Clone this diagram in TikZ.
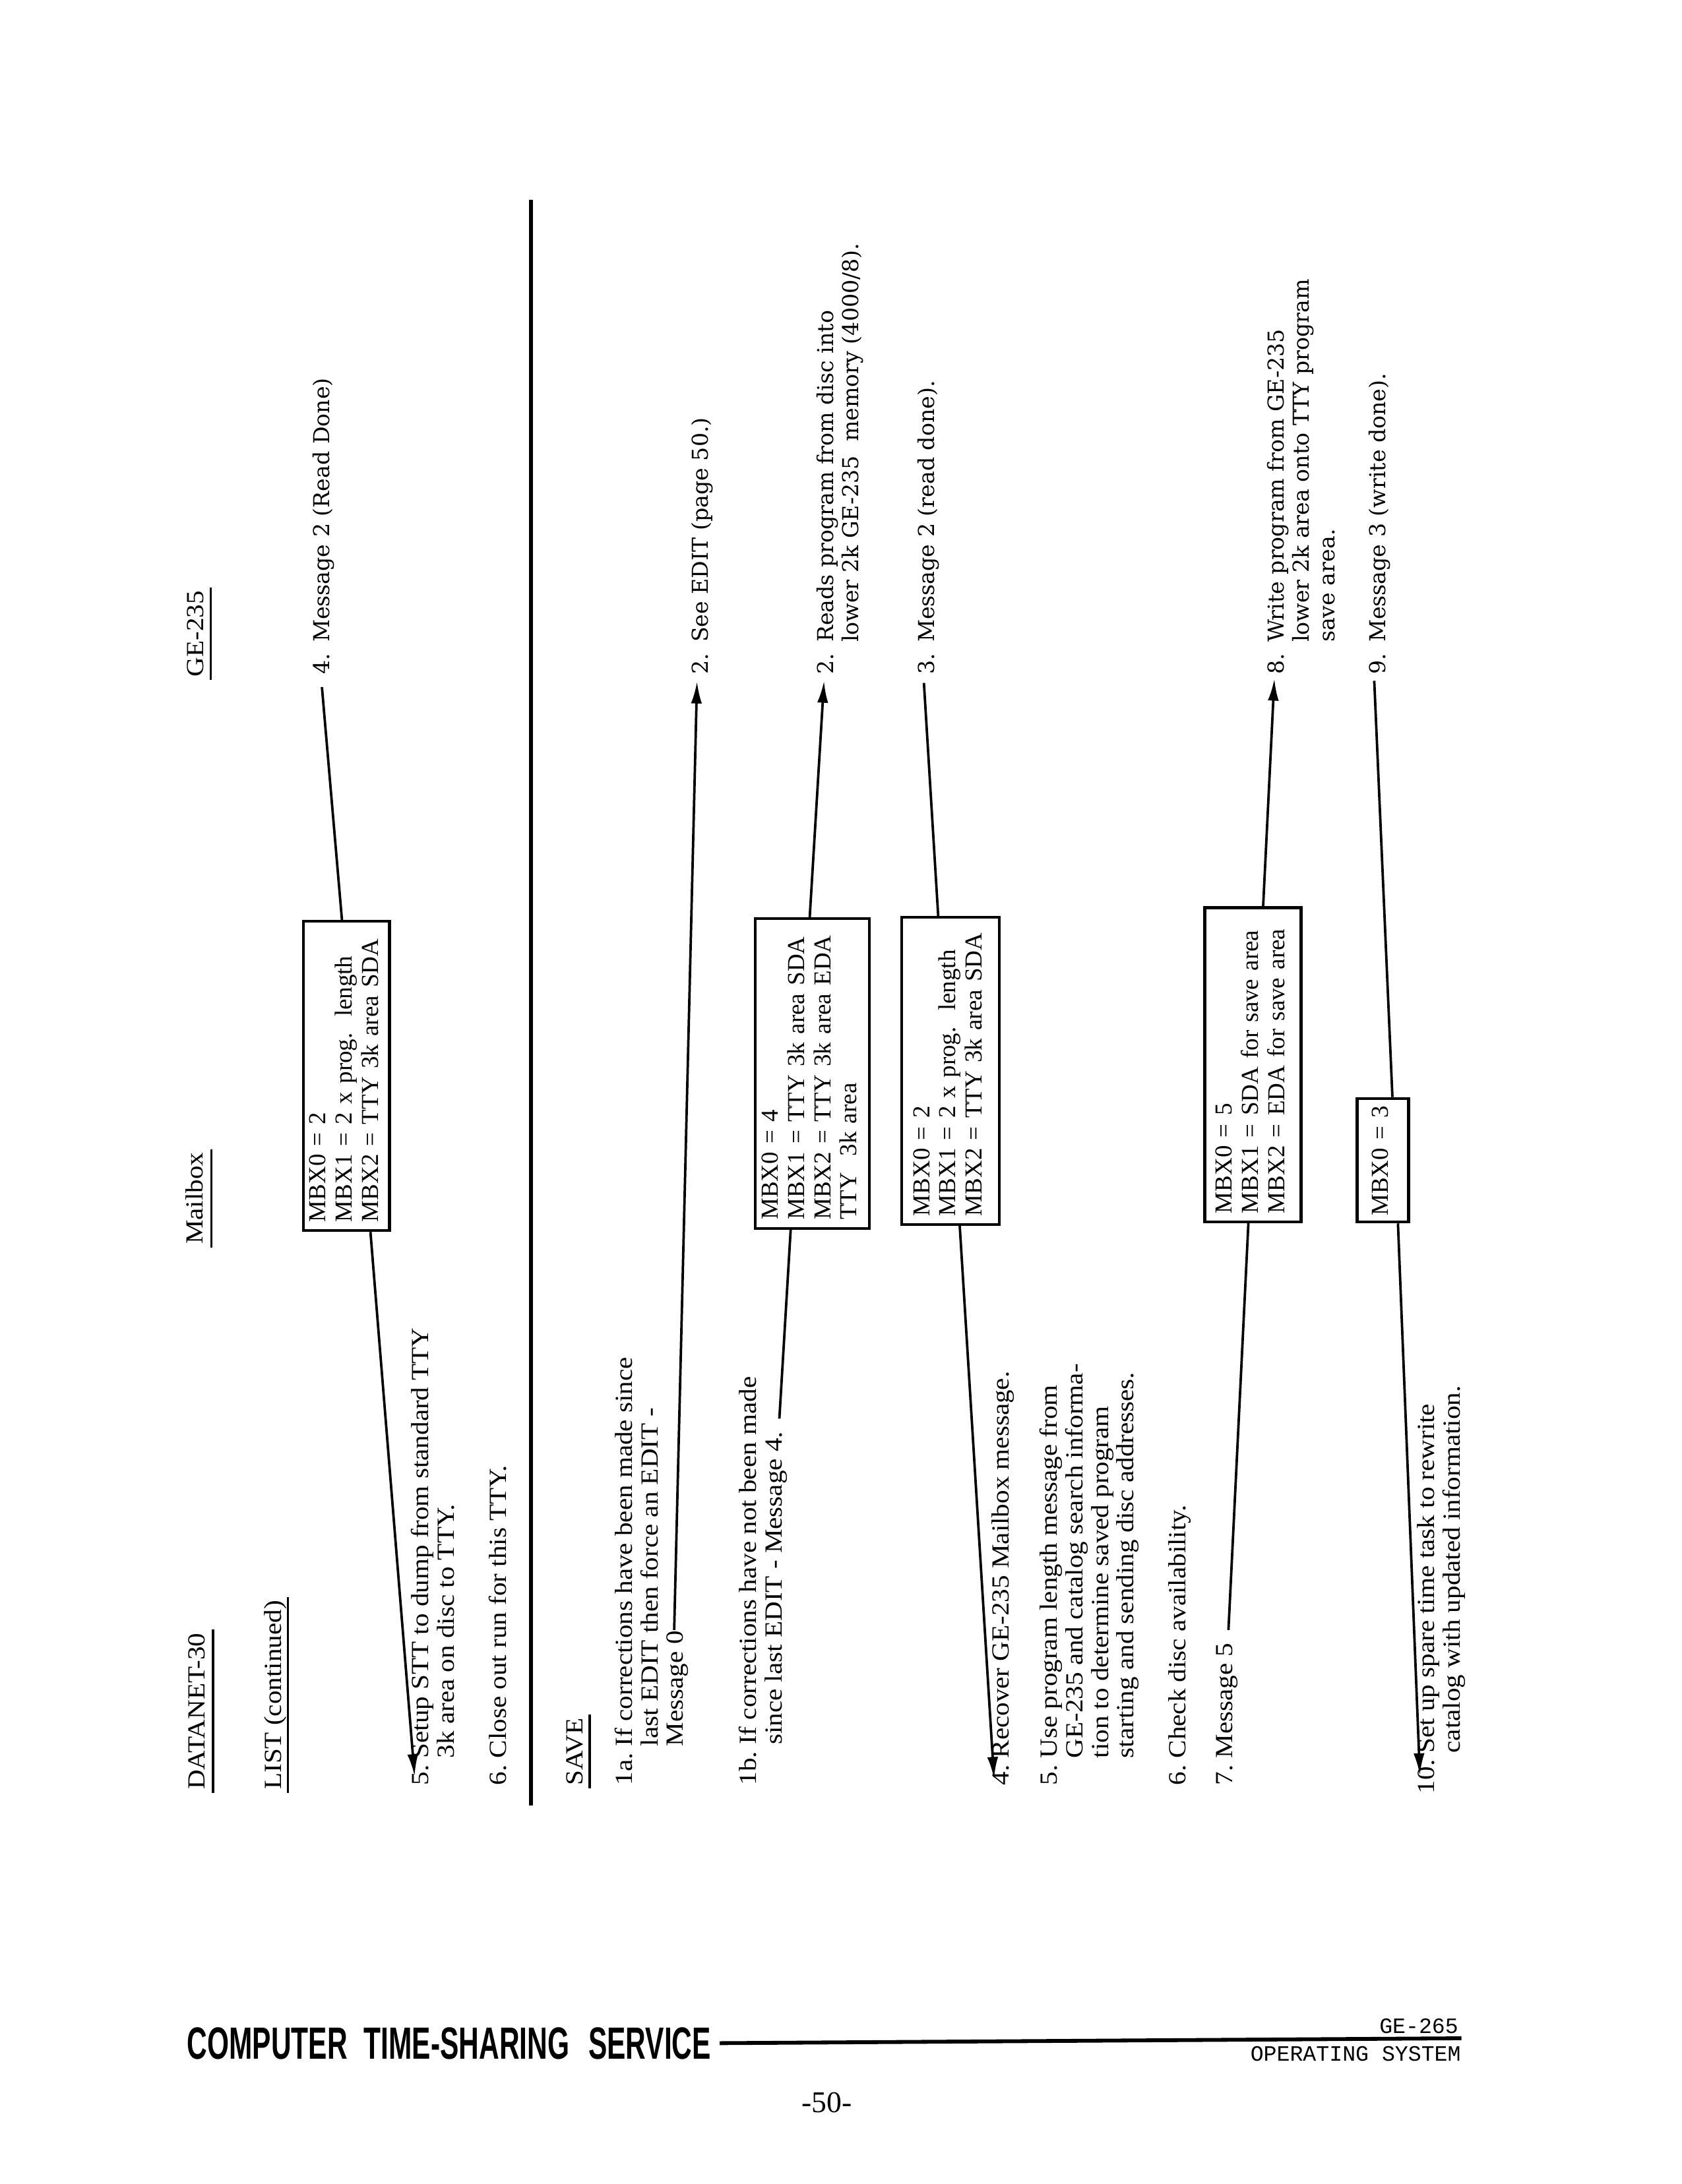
\documentclass[tikz,border=0pt]{standalone}
\usepackage{fontspec}
\setmainfont{Liberation Serif}
\newfontfamily\dnfont{Liberation Serif}[FakeStretch=1.1]
\newfontfamily\mbxfont{Liberation Serif}
\newfontfamily\gefont{DejaVu Serif}
\newfontfamily\footfont{Liberation Sans}[FakeStretch=0.62]
\newfontfamily\gemono{Liberation Mono}
\usetikzlibrary{calc,arrows.meta}
\def\drawline{\draw[line width=0.9pt]}
\def\drawarrow{\draw[line width=0.9pt,-{Latex[length=8pt,width=4pt]}]}
\def\drawrule{\draw[line width=0.9pt]}
\def\dnnode{\node[rotate=90,anchor=base west,inner sep=0pt,font=\dnfont\fontsize{9}{9.3}\selectfont]}
\def\genode{\node[rotate=90,anchor=base west,inner sep=0pt,font=\gefont\fontsize{8}{9.2}\selectfont]}
\def\mbxnode{\node[rotate=90,draw,line width=1pt,inner xsep=1.1mm,inner ysep=0pt,align=left,font=\mbxfont\fontsize{8.9}{9.6}\selectfont]}
\newcommand\steps[1]{\begin{tabular}[t]{@{}l@{\ }l@{}}#1\end{tabular}}
\newcommand\gesteps[1]{\begin{tabular}[t]{@{}l@{\hspace{4pt}}l@{}}#1\end{tabular}}
\newcommand\mbxlines[1]{\begin{tabular}{@{}l@{}}#1\end{tabular}}

\begin{document}
\begin{tikzpicture}[x=0.17857mm,y=-0.17857mm]
\useasboundingbox (0,0) rectangle (1209,1570.3);

% column heads
\dnnode (datanet) at (147,1287) {DATANET-30};
\dnnode (mailbox) at (146,895) {Mailbox};
\dnnode (gehead) at (146.5,487) {GE-235};
\dnnode (list) at (202,1287) {LIST (continued)};
\drawrule ($(datanet.base west)+(6,2)$) -- ($(datanet.base east)+(6,-2)$);
\drawrule ($(mailbox.base west)+(6,2)$) -- ($(mailbox.base east)+(6,-2)$);
\drawrule ($(gehead.base west)+(5,2)$) -- ($(gehead.base east)+(5,-2)$);
\drawrule ($(list.base west)+(5,2)$) -- ($(list.base east)+(5,-2)$);

% LIST (continued)
\dnnode (setup) at (308,1284) {\steps{5. & Setup STT to dump from standard TTY\\ & 3k area on disc to TTY.}};
\dnnode (close) at (364,1284) {\steps{6. & Close out run for this TTY.}};
\genode (readdone) at (237,485) {\gesteps{4. & Message 2 (Read Done)}};
\mbxnode (listbox) [text width=37.5mm, minimum height=11.07mm] at (249,773.6)
  {\mbxlines{MBX0 = 2\\MBX1 = 2 x prog.\ \ length\\MBX2 = TTY 3k area SDA}};
\coordinate (rd) at (231.4,494);
\coordinate (setuptip) at (298,1277);
\drawline (rd) -- ($(listbox.north east)!0.45!(listbox.south east)$);
\drawarrow ($(listbox.north west)!0.77!(listbox.south west)$) -- (setuptip);

% the rule between LIST and SAVE
\coordinate (ruletop) at (381.8,143.8);
\coordinate (rulebot) at (381.8,1298);
\draw[line width=1.4pt] (ruletop) -- (rulebot);

% SAVE
\dnnode (save) at (418.7,1284) {SAVE};
\drawrule ($(save.base west)+(5,2)$) -- ($(save.base east)+(5,-2)$);
\dnnode (corr) at (454.4,1284) {\steps{1a. & If corrections have been made since\\ & last EDIT then force an EDIT -\\ & Message 0}};
\dnnode (nocorr) at (543.6,1284) {\steps{1b. & If corrections have not been made\\ & since last EDIT - Message 4.}};
\dnnode (recover) at (725,1284) {\steps{4. & Recover GE-235 Mailbox message.}};
\dnnode (uselen) at (760,1284) {\steps{5. & Use program length message from\\ & GE-235 and catalog search informa-\\ & tion to determine saved program\\ & starting and sending disc addresses.}};
\dnnode (check) at (852,1284) {\steps{6. & Check disc availability.}};
\dnnode (msgfive) at (886,1284) {\steps{7. & Message 5}};
\dnnode (spare) at (1031,1290) {\steps{10. & Set up spare time task to rewrite\\ & catalog with updated information.}};

\genode (seeedit) at (509,485) {\gesteps{2. & See EDIT (page 50.)}};
\genode (readprog) at (599,485) {\gesteps{2. & Reads program from disc into\\ & lower 2k GE-235\ \ memory (4000/8).}};
\genode (readdone2) at (671.4,485) {\gesteps{3. & Message 2 (read done).}};
\genode (writeprog) at (923,485) {\gesteps{8. & Write program from GE-235\\ & lower 2k area onto TTY program\\ & save area.}};
\genode (writedone) at (996,485) {\gesteps{9. & Message 3 (write done).}};

% mailboxes
\mbxnode (editbox) [text width=37.57mm, minimum height=14.64mm] at (583.7,771.8)
  {\mbxlines{MBX0 = 4\\MBX1 = TTY 3k area SDA\\MBX2 = TTY 3k area EDA\\TTY\ \ 3k area}};
\mbxnode (lenbox) [text width=37.25mm, minimum height=12.57mm] at (683.2,770)
  {\mbxlines{MBX0 = 2\\MBX1 = 2 x prog.\ \ length\\MBX2 = TTY 3k area SDA}};
\mbxnode (savebox) [text width=38.14mm, minimum height=12.36mm] at (900.6,765.6)
  {\mbxlines{MBX0 = 5\\MBX1 = SDA for save area\\MBX2 = EDA for save area}};
\mbxnode (donebox) [inner xsep=0.8mm, text width=14.27mm, minimum height=6.61mm] at (994,834.2)
  {\mbxlines{MBX0 = 3}};

% message lines
\coordinate (m0) at (484.6,1172);
\coordinate (edittip) at (501,490);
\drawarrow (m0) -- (edittip);
\coordinate (m4) at (560.2,1020);
\drawline (m4) -- ($(editbox.north west)!0.317!(editbox.south west)$);
\coordinate (readtip) at (592.3,489.5);
\drawarrow ($(editbox.north east)!0.48!(editbox.south east)$) -- (readtip);
\coordinate (m2) at (664.1,491);
\drawline (m2) -- ($(lenbox.north east)!0.378!(lenbox.south east)$);
\coordinate (recovertip) at (714.5,1279);
\drawarrow ($(lenbox.north west)!0.592!(lenbox.south west)$) -- (recovertip);
\coordinate (m5) at (883,1172);
\drawline (m5) -- ($(savebox.north west)!0.454!(savebox.south west)$);
\coordinate (writetip) at (916,488);
\drawarrow ($(savebox.north east)!0.603!(savebox.south east)$) -- (writetip);
\coordinate (m3) at (987.8,489.5);
\drawline (m3) -- ($(donebox.north east)!0.676!(donebox.south east)$);
\coordinate (sparetip) at (1020.6,1276.4);
\drawarrow ($(donebox.north west)!0.778!(donebox.south west)$) -- (sparetip);

% page foot
\node[anchor=base west,inner sep=0pt,font=\footfont\bfseries\fontsize{16.5}{17}\selectfont] (cts) at (134.2,1480.2)
  {COMPUTER\hspace{6pt}TIME-SHARING\hspace{7pt}SERVICE};
\coordinate (footend) at (1050.5,1465.5);
\draw[line width=1.4pt] ([xshift=3pt]cts.east) -- (footend);
\node[anchor=base east,inner sep=0pt,font=\gemono\fontsize{8}{8}\selectfont] (ge265) at (1048.6,1462) {GE-265};
\node[anchor=base east,inner sep=0pt,font=\gemono\fontsize{8}{8}\selectfont] (opsys) at (1050.4,1481.8) {OPERATING SYSTEM};
\node[anchor=base,inner sep=0pt,font=\fontsize{11}{11}\selectfont] (pageno) at (594.2,1518.9) {-50-};
\end{tikzpicture}
\end{document}
